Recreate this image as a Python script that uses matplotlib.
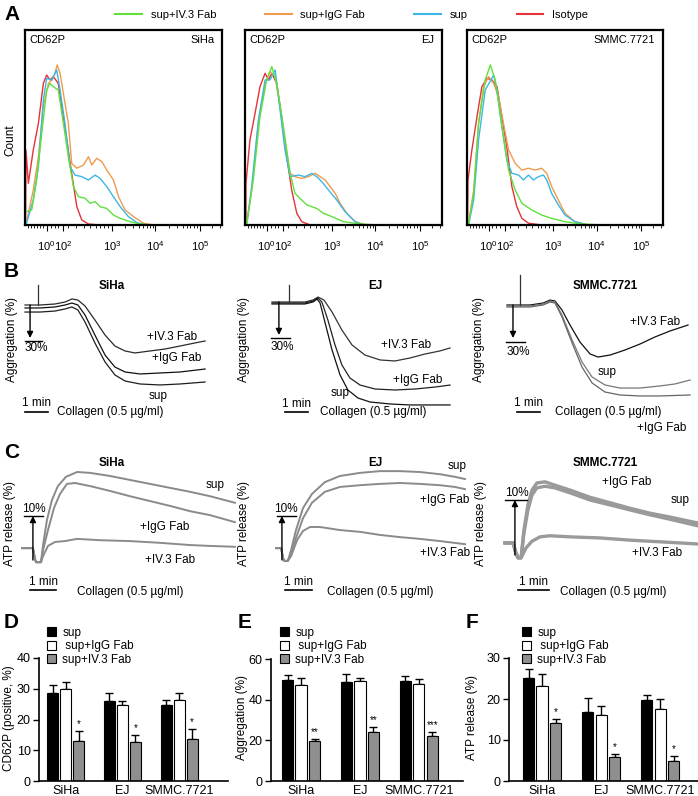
import numpy as np
import matplotlib
matplotlib.use("Agg")
import matplotlib.pyplot as plt
from matplotlib.lines import Line2D

plt.rcParams['font.family'] = ['Liberation Sans', 'DejaVu Sans']
plt.rcParams['mathtext.fontset'] = 'custom'
plt.rcParams['mathtext.rm'] = 'Liberation Sans'
plt.rcParams['mathtext.it'] = 'Liberation Sans:italic'
plt.rcParams['mathtext.bf'] = 'Liberation Sans:bold'

# ---------------- data ----------------
CELLS = ['SiHa', 'EJ', 'SMMC.7721']

# A: CD62P histograms, x = channel (% of axis), y = relative count
HIST_TICKS = [11.0, 19.5, 44.1, 66.1, 89.0]
HIST_TICKLABELS = [r'$\mathregular{10^0}$', r'$\mathregular{10^2}$', r'$\mathregular{10^3}$',
                   r'$\mathregular{10^4}$', r'$\mathregular{10^5}$']
HIST_MINOR = [1.5, 3, 4.5, 6, 7.5, 9, 13, 15, 17, 22, 26, 30, 33, 36, 38, 40, 42,
              51, 55, 58, 60, 62, 63.5, 65, 73, 77, 80, 82, 84, 86, 87.5, 95, 99]

SIHA_ISO = [(0.3, 0), (0.5, 38.5), (1.7, 21.4), (4.2, 38.5), (6.8, 52.1), (9.3, 72.6), (11.0, 76.9),
            (12.7, 74.4), (14.4, 76.1), (16.9, 72.6), (18.6, 60.7), (21.2, 43.6), (23.7, 26.5),
            (26.3, 9.4), (28.8, 2.6), (32.2, 0.5), (38.1, 0), (100, 0)]
SIHA_IGG = [(0.8, 1.7), (4.2, 17.9), (6.8, 35.0), (9.3, 60.7), (11.9, 72.6), (14.4, 75.2), (16.4, 82.1),
            (17.8, 77.8), (20.3, 62.4), (22.0, 52.1), (23.7, 31.6), (26.3, 29.1), (29.7, 30.8),
            (32.2, 35.0), (33.9, 30.8), (36.4, 34.2), (39.0, 32.5), (41.5, 28.2), (44.9, 23.1),
            (47.5, 14.5), (50.8, 7.7), (55.1, 4.3), (60.2, 0.9), (65.3, 0)]
SIHA_SUP = [(0.8, 0.9), (4.2, 12.8), (6.8, 29.9), (9.3, 64.1), (11.0, 75.2), (13.6, 74.4), (16.1, 79.5),
            (17.8, 69.2), (20.3, 52.1), (22.9, 29.9), (25.4, 25.6), (28.8, 24.8), (32.2, 23.1),
            (35.6, 25.6), (38.1, 23.9), (41.5, 19.7), (44.9, 14.5), (48.3, 9.4), (52.5, 4.3),
            (56.8, 1.2), (61.9, 0)]
SIHA_IV3 = [(0.5, 6.8), (3.4, 7.7), (5.9, 23.1), (8.5, 47.0), (11.0, 69.2), (12.7, 72.6), (14.4, 70.9),
            (16.9, 69.2), (19.5, 52.1), (22.0, 35.0), (24.6, 19.7), (27.1, 14.5), (30.5, 13.7),
            (33.1, 11.1), (35.6, 12.0), (38.1, 9.4), (41.5, 8.5), (44.9, 5.1), (48.3, 3.4),
            (53.4, 1.7), (58.5, 0.5), (65.3, 0), (100, 0)]

EJ_ISO = [(0.5, 0), (0.5, 21.4), (2.5, 43.6), (5.1, 57.3), (7.6, 70.9), (10.2, 77.8), (11.9, 74.4),
          (13.6, 77.8), (16.1, 72.6), (18.6, 55.6), (21.2, 35.0), (23.7, 17.9), (26.3, 6.0),
          (28.8, 1.7), (33.1, 0), (100, 0)]
EJ_IGG = [(0.8, 0), (3.4, 17.9), (6.8, 52.1), (10.2, 72.6), (12.7, 78.6), (15.3, 76.1), (17.8, 60.7),
          (20.3, 41.9), (22.9, 26.5), (25.4, 24.8), (28.8, 23.9), (32.2, 24.8), (35.6, 26.5),
          (38.1, 24.8), (40.7, 23.1), (43.2, 19.7), (45.8, 16.2), (48.3, 11.1), (51.7, 6.0),
          (55.9, 1.7), (61.9, 0)]
EJ_SUP = [(0.8, 0), (3.4, 19.7), (6.8, 53.8), (10.2, 74.4), (12.7, 74.4), (15.3, 79.5), (17.8, 59.0),
          (20.3, 38.5), (22.9, 24.8), (27.1, 25.6), (30.5, 24.8), (33.9, 26.5), (36.4, 24.8),
          (39.0, 22.2), (42.4, 17.9), (46.6, 12.8), (50.8, 6.8), (55.9, 1.7), (60.2, 0)]
EJ_IV3 = [(0.8, 0), (4.2, 23.1), (7.6, 55.6), (11.0, 74.4), (13.6, 81.2), (16.1, 72.6), (19.5, 50.4),
          (22.9, 26.5), (25.4, 16.2), (28.8, 12.8), (31.4, 10.3), (33.9, 9.4), (36.4, 8.5),
          (39.8, 6.0), (44.1, 4.3), (50.0, 1.7), (58.5, 0.5), (68.6, 0), (100, 0)]

SMMC_ISO = [(0.3, 0), (0.5, 23.1), (2.5, 38.5), (5.1, 55.6), (7.6, 70.9), (10.2, 75.2), (12.7, 74.4),
            (15.3, 70.9), (17.8, 55.6), (20.3, 40.2), (22.9, 19.7), (25.4, 9.4), (28.0, 3.4),
            (31.4, 0.9), (38.1, 0), (100, 0)]
SMMC_IGG = [(0.8, 0.9), (3.4, 17.9), (5.9, 52.1), (8.5, 70.9), (11.0, 76.1), (13.6, 72.6), (16.1, 65.8),
            (18.6, 52.1), (21.2, 38.5), (24.6, 31.6), (28.0, 28.2), (31.4, 29.1), (34.7, 28.2),
            (38.1, 29.1), (40.7, 26.5), (43.2, 19.7), (46.6, 12.8), (50.0, 6.0), (55.1, 1.7), (61.9, 0)]
SMMC_SUP = [(0.8, 0), (3.4, 12.8), (5.9, 43.6), (9.3, 69.2), (13.6, 76.9), (15.3, 69.2), (17.8, 50.4),
            (20.3, 33.3), (22.9, 26.5), (26.3, 25.6), (28.8, 23.1), (31.4, 25.6), (33.9, 23.1),
            (36.4, 24.8), (39.0, 25.6), (40.7, 23.1), (43.2, 16.2), (46.6, 10.3), (50.0, 5.1),
            (55.1, 1.7), (61.9, 0)]
SMMC_IV3 = [(0.8, 0.9), (3.4, 16.2), (5.9, 52.1), (9.3, 74.4), (11.9, 82.1), (14.4, 74.4), (17.8, 50.4),
            (21.2, 28.2), (24.6, 17.9), (28.0, 11.1), (33.1, 7.7), (38.1, 5.1), (43.2, 3.4),
            (50.0, 1.7), (58.5, 0.5), (70.3, 0), (100, 0)]

# B: aggregation traces, (time min, aggregation %)
B_SIHA_IV3 = [(0, 0), (0.65, 0), (1.30, -0.9), (1.74, -2.7), (2.04, -5.5), (2.30, -4.5), (2.61, 0.9),
              (3.04, 13.6), (3.48, 27.3), (3.91, 37.3), (4.35, 41.8), (4.78, 43.6), (5.43, 41.8),
              (6.09, 40.0), (6.74, 37.3), (7.39, 34.5), (7.83, 32.7)]
B_SIHA_IGG = [(0, 2.7), (0.65, 2.7), (1.30, 1.8), (1.74, 0), (2.04, -1.8), (2.30, 0), (2.61, 9.1),
              (3.04, 27.3), (3.48, 45.5), (3.91, 56.4), (4.35, 60.9), (5.00, 62.7), (5.87, 61.8),
              (6.74, 60.9), (7.83, 58.2)]
B_SIHA_SUP = [(0, 6.4), (0.65, 6.4), (1.30, 5.5), (1.74, 3.6), (2.04, 1.8), (2.30, 4.5), (2.61, 15.5),
              (3.04, 34.5), (3.48, 51.8), (3.91, 63.6), (4.35, 69.1), (5.00, 71.8), (5.87, 72.7),
              (6.74, 71.8), (7.83, 70.0)]
B_EJ_IV3 = [(0, 0), (0.78, 0), (1.43, 0), (1.78, -1.8), (2.0, -4.5), (2.26, -1.8), (2.61, 9.1),
            (3.04, 25.5), (3.48, 39.1), (4.04, 48.2), (4.70, 52.7), (5.35, 53.6), (6.0, 50.9),
            (6.65, 47.3), (7.30, 44.5), (7.74, 41.8)]
B_EJ_IGG = [(0, 0.9), (1.43, 0.9), (1.78, -0.9), (2.0, -3.6), (2.17, 0), (2.43, 16.4), (2.74, 39.1),
            (3.04, 57.3), (3.39, 69.1), (3.83, 75.5), (4.48, 79.1), (5.35, 80.0), (6.22, 79.1),
            (7.09, 77.3), (7.74, 75.5)]
B_EJ_SUP = [(0, 1.8), (1.43, 1.8), (1.78, 0), (1.96, -2.7), (2.09, 0.9), (2.30, 18.2), (2.61, 43.6),
            (2.96, 66.4), (3.30, 80.0), (3.74, 87.3), (4.26, 90.9), (5.13, 92.7), (6.0, 93.6),
            (6.87, 93.6), (7.74, 93.6)]
B_SMMC_IV3 = [(0, 0), (1.0, 0), (1.57, -1.8), (1.87, -4.5), (2.09, -3.6), (2.39, 4.5), (2.74, 18.2),
              (3.17, 33.6), (3.61, 44.5), (3.96, 47.3), (4.48, 45.5), (5.13, 40.9), (5.78, 35.5),
              (6.43, 29.1), (7.09, 23.6), (7.87, 18.2)]
B_SMMC_SUP = [(0, 0.9), (1.0, 0.9), (1.57, -0.9), (1.87, -3.6), (2.09, -2.7), (2.39, 9.1), (2.83, 31.8),
              (3.26, 51.8), (3.70, 65.5), (4.26, 72.7), (4.91, 75.5), (5.78, 75.5), (6.65, 73.6),
              (7.30, 71.8), (7.96, 68.2)]
B_SMMC_IGG = [(0, 1.8), (1.0, 1.8), (1.57, 0), (1.87, -2.7), (2.09, -1.8), (2.39, 10.9), (2.83, 34.5),
              (3.26, 56.4), (3.70, 70.9), (4.26, 79.1), (4.91, 81.8), (5.78, 82.7), (6.65, 82.7),
              (7.96, 81.8)]

# C: ATP release traces, (time min, release %)
C_SIHA_PRE = [(0, 2.7), (0.42, 2.7), (0.5, 0.2), (0.54, -0.5), (0.73, -0.5)]
C_SIHA_SUP = [(0.81, 3.4), (0.96, 9.1), (1.15, 13.6), (1.38, 16.8), (1.69, 18.9), (2.12, 20.0),
              (2.62, 19.8), (3.38, 19.1), (4.15, 18.2), (4.92, 17.3), (5.69, 16.4), (6.46, 15.5),
              (7.23, 14.5), (8.19, 13.0)]
C_SIHA_IGG = [(0.81, 2.3), (1.0, 6.8), (1.23, 11.8), (1.46, 15.0), (1.73, 17.3), (2.04, 17.5),
              (2.62, 16.8), (3.38, 15.7), (4.15, 14.5), (4.92, 13.4), (5.69, 12.3), (6.46, 11.1),
              (7.23, 10.2), (8.19, 8.6)]
C_SIHA_IV3 = [(0.81, 0.9), (1.0, 3.2), (1.27, 4.1), (1.65, 4.3), (2.12, 4.8), (3.0, 4.5), (4.15, 4.3),
              (5.31, 3.9), (6.46, 3.4), (7.23, 3.2), (8.19, 3.0)]
C_EJ_PRE = [(0, 2.7), (0.19, 2.7), (0.26, 0.5), (0.30, -0.2), (0.44, -0.2)]
C_EJ_SUP = [(0.56, 2.3), (0.74, 6.8), (1.0, 11.8), (1.33, 15.0), (1.81, 17.7), (2.37, 19.1), (3.11, 19.8),
            (3.85, 20.2), (4.59, 20.2), (5.33, 20.0), (6.07, 19.5), (6.63, 18.9), (7.0, 18.4)]
C_EJ_IGG = [(0.56, 1.6), (0.74, 5.0), (1.0, 9.5), (1.33, 13.0), (1.81, 15.5), (2.37, 16.6), (3.11, 17.0),
            (3.85, 17.3), (4.59, 17.5), (5.33, 17.3), (6.07, 17.0), (6.63, 16.6), (7.0, 16.1)]
C_EJ_IV3 = [(0.56, 0.9), (0.78, 4.5), (1.0, 6.6), (1.26, 7.5), (1.63, 7.5), (2.37, 6.8), (3.11, 6.4),
            (3.85, 5.7), (4.59, 5.2), (5.33, 4.8), (6.07, 4.3), (7.0, 3.6)]
C_SMMC_PRE = [(0, 2.2), (0.26, 2.2), (0.35, 0.4), (0.42, -0.5), (0.52, -0.5)]
C_SMMC_IGG = [(0.61, 4.5), (0.74, 9.1), (0.87, 11.8), (1.03, 13.1), (1.29, 13.3), (1.61, 12.7),
              (2.10, 11.8), (2.74, 10.5), (3.39, 9.5), (4.03, 8.5), (4.68, 7.6), (5.32, 6.9), (6.23, 5.8)]
C_SMMC_SUP = [(0.61, 4.0), (0.74, 8.2), (0.87, 10.9), (1.03, 12.2), (1.29, 12.5), (1.61, 12.2),
              (2.10, 11.3), (2.74, 10.0), (3.39, 9.1), (4.03, 8.2), (4.68, 7.3), (5.32, 6.5), (6.23, 5.3)]
C_SMMC_IV3 = [(0.68, 1.3), (0.87, 2.5), (1.13, 3.3), (1.45, 3.5), (2.10, 3.3), (3.06, 3.1), (4.03, 2.7),
              (5.0, 2.4), (6.23, 2.0)]

# D-F: bar charts (mean, SEM)
BAR_LABELS = ['sup', ' sup+IgG Fab', 'sup+IV.3 Fab']
CD62P_MEAN = [[28.7, 26.0, 24.7], [29.8, 24.8, 26.3], [13.0, 12.7, 13.6]]
CD62P_ERR = [[2.5, 2.6, 1.8], [2.3, 1.1, 2.3], [3.2, 2.4, 3.4]]
CD62P_STARS = ['*', '*', '*']
AGG_MEAN = [[49.5, 48.6, 49.0], [47.2, 49.2, 47.9], [19.6, 23.9, 22.3]]
AGG_ERR = [[2.8, 4.2, 2.6], [3.5, 1.5, 2.1], [1.2, 2.6, 1.6]]
AGG_STARS = ['**', '**', '***']
ATP_MEAN = [[25.2, 16.8, 19.8], [23.2, 16.2, 17.6], [14.2, 5.8, 4.8]]
ATP_ERR = [[2.0, 3.5, 1.1], [3.0, 2.2, 2.5], [1.0, 0.8, 1.3]]
ATP_STARS = ['*', '*', '*']

# ---------------- figure ----------------
W, H = 698, 796
fig = plt.figure(figsize=(W / 100, H / 100), dpi=100)

GREEN, ORANGE, CYAN, RED = '#5fe03c', '#ef9b4f', '#3cb6e6', '#e63238'


def px_axes(x0, y0, x1, y1):
    return fig.add_axes([x0 / W, 1 - y1 / H, (x1 - x0) / W, (y1 - y0) / H])


def ftext(x, y, s, **kw):
    fig.text(x / W, 1 - y / H, s, **kw)


def xy(pts):
    a = np.array(pts, dtype=float)
    return a[:, 0], a[:, 1]


# panel letters
for letter, (lx, ly) in zip('ABCDEF', [(4, 14), (4, 272), (4, 452), (4, 622), (238, 622), (466, 622)]):
    ftext(lx, ly, letter, fontsize=15, fontweight='bold', va='center', ha='left')

# ---- A ----
handles = [Line2D([], [], color=c, lw=1.5) for c in (GREEN, ORANGE, CYAN, RED)]
fig.legend(handles, ['sup+IV.3 Fab', 'sup+IgG Fab', 'sup', 'Isotype'], ncol=4, frameon=False,
           loc='center left', bbox_to_anchor=(115 / W, 1 - 15 / H), fontsize=8,
           handlelength=2.4, handletextpad=0.8, columnspacing=4.4, borderpad=0, borderaxespad=0)

hist_sets = [(SIHA_ISO, SIHA_IGG, SIHA_SUP, SIHA_IV3),
             (EJ_ISO, EJ_IGG, EJ_SUP, EJ_IV3),
             (SMMC_ISO, SMMC_IGG, SMMC_SUP, SMMC_IV3)]
for (bx0, bx1), cell, (iso, igg, sup, iv3) in zip([(25, 222), (245, 442), (467, 663)], CELLS, hist_sets):
    ax = px_axes(bx0, 30, bx1, 225)
    ax.plot(*xy(iso), color=RED, lw=1)
    ax.plot(*xy(igg), color=ORANGE, lw=1)
    ax.plot(*xy(sup), color=CYAN, lw=1)
    ax.plot(*xy(iv3), color=GREEN, lw=1)
    ax.set_xlim(0, 100)
    ax.set_ylim(0, 100)
    for sp in ax.spines.values():
        sp.set_linewidth(1.6)
    ax.set_yticks([])
    ax.set_xticks(HIST_TICKS, HIST_TICKLABELS, fontsize=8)
    ax.set_xticks(HIST_MINOR, minor=True)
    ax.tick_params(axis='x', which='major', length=4, width=0.8, pad=6)
    ax.tick_params(axis='x', which='minor', length=2.5, width=0.6)
    ax.text(0.02, 0.975, 'CD62P', transform=ax.transAxes, fontsize=8, va='top', ha='left')
    ax.text(0.96, 0.975, cell, transform=ax.transAxes, fontsize=8, va='top', ha='right')
ftext(10, 140, 'Count', rotation=90, fontsize=8.5, va='center', ha='center')


# ---- trace panels ----
def trace_axes(box, origin, sx, sy):
    x0, y0, x1, y1 = box
    ox, oy = origin
    ax = px_axes(x0, y0, x1, y1)
    ax.set_xlim((x0 - ox) / sx, (x1 - ox) / sx)
    ax.set_ylim((oy - y1) / sy, (oy - y0) / sy)
    ax.axis('off')
    return ax


TXT = dict(fontsize=8.5, ha='center', va='center')

# B panels
b_specs = [
    dict(box=(15, 268, 235, 420), origin=(25, 305), title_x=112,
         traces=[(B_SIHA_IV3, '#2a2a2a'), (B_SIHA_IGG, '#111111'), (B_SIHA_SUP, '#1e1e1e')],
         spike=(0.57, -18), arrow_t=0.22, bar_line=(0, 0.74, 32.7), pct=(0.5, 39.5),
         labels=[('+IV.3 Fab', 6.4, 29), ('+IgG Fab', 6.6, 48), ('sup', 5.8, 83)],
         sbar=(0, 1, 97), collagen_t=1.4),
    dict(box=(262, 268, 470, 420), origin=(272, 302), title_x=375,
         traces=[(B_EJ_IV3, '#333333'), (B_EJ_IGG, '#222222'), (B_EJ_SUP, '#111111')],
         spike=(0.74, -15.5), arrow_t=0.30, bar_line=(-0.04, 0.78, 32.7), pct=(0.43, 41),
         labels=[('+IV.3 Fab', 5.83, 39), ('+IgG Fab', 6.35, 71), ('sup', 2.96, 83)],
         sbar=(0.57, 1.57, 100), collagen_t=2.09),
    dict(box=(497, 262, 698, 435), origin=(507, 305), title_x=605,
         traces=[(B_SMMC_IV3, '#111111'), (B_SMMC_SUP, '#777777'), (B_SMMC_IGG, '#666666')],
         spike=(0.57, -27), arrow_t=0.26, bar_line=(-0.04, 0.78, 34), pct=(0.48, 43),
         labels=[('+IV.3 Fab', 6.43, 15.5), ('sup', 4.35, 61), ('+IgG Fab', 6.74, 112)],
         sbar=(0.43, 1.43, 97), collagen_t=2.09),
]
for cell, spec in zip(CELLS, b_specs):
    ax = trace_axes(spec['box'], spec['origin'], 23, -1.1)
    for pts, col in spec['traces']:
        ax.plot(*xy(pts), color=col, lw=0.9)
    st, sa = spec['spike']
    ax.plot([st, st], [sa, 0], color='#333333', lw=0.9)
    at = spec['arrow_t']
    ax.annotate('', xy=(at, 30), xytext=(at, 0),
                arrowprops=dict(arrowstyle='-|>', color='black', lw=1.0, mutation_scale=9, shrinkA=0, shrinkB=0))
    l0, l1, la = spec['bar_line']
    ax.plot([l0, l1], [la, la], color='black', lw=1.0)
    ax.text(spec['pct'][0], spec['pct'][1], '30%', **TXT)
    for s, t, a in spec['labels']:
        ax.text(t, a, s, **TXT)
    s0, s1, sa = spec['sbar']
    ax.plot([s0, s1], [sa, sa], color='black', lw=1.2)
    ax.text((s0 + s1) / 2, sa - 7.5, '1 min', **TXT)
    ax.text(spec['collagen_t'], sa, 'Collagen (0.5 µg/ml)', fontsize=8.5, ha='left', va='center')
    ftext(spec['title_x'], 286, cell, fontsize=8.5, fontweight='bold', ha='center', va='center')
for x in (12, 244, 479):
    ftext(x, 340, 'Aggregation (%)', rotation=90, fontsize=8.5, ha='center', va='center')

# C panels
c_specs = [
    dict(box=(15, 455, 245, 600), origin=(22, 560), sx=26, sy=4.4, title_x=112,
         pre=C_SIHA_PRE, traces=[C_SIHA_SUP, C_SIHA_IGG, C_SIHA_IV3], lw=1.4, col='#8a8a8a',
         arrow_t=0.42, bar_line=(0.08, 0.81), pct=(0.45, 10.3),
         labels=[('sup', 7.42, 17), ('+IgG Fab', 5.5, 7.5), ('+IV.3 Fab', 5.7, 0)],
         sbar=(0.31, 1.31, -6.8), collagen_t=2.12),
    dict(box=(262, 455, 470, 600), origin=(276, 560), sx=27, sy=4.4, title_x=375,
         pre=C_EJ_PRE, traces=[C_EJ_SUP, C_EJ_IGG, C_EJ_IV3], lw=1.4, col='#8a8a8a',
         arrow_t=0.22, bar_line=(0.04, 0.74), pct=(0.37, 10.3),
         labels=[('sup', 6.7, 21.4), ('+IgG Fab', 6.26, 13.6), ('+IV.3 Fab', 6.25, 1.6)],
         sbar=(0.33, 1.33, -6.8), collagen_t=1.89),
    dict(box=(495, 455, 698, 600), origin=(505, 555), sx=31, sy=5.5, title_x=605,
         pre=C_SMMC_PRE, traces=[C_SMMC_IGG, C_SMMC_SUP, C_SMMC_IV3], lw=2.4, col='#9a9a9a',
         arrow_t=0.32, bar_line=(0.0, 0.71), pct=(0.39, 10.2),
         labels=[('+IgG Fab', 3.94, 13.3), ('sup', 5.65, 10), ('+IV.3 Fab', 4.9, 0.4)],
         sbar=(0.42, 1.42, -6.4), collagen_t=1.77),
]
for cell, spec in zip(CELLS, c_specs):
    ax = trace_axes(spec['box'], spec['origin'], spec['sx'], spec['sy'])
    pt, pr = xy(spec['pre'])
    for pts in spec['traces']:
        tt, rr = xy(pts)
        ax.plot(np.r_[pt, tt], np.r_[pr, rr], color=spec['col'], lw=spec['lw'])
    at = spec['arrow_t']
    ax.annotate('', xy=(at, 10), xytext=(at, 0),
                arrowprops=dict(arrowstyle='-|>', color='black', lw=1.0, mutation_scale=9, shrinkA=0, shrinkB=0))
    l0, l1 = spec['bar_line']
    ax.plot([l0, l1], [10, 10], color='black', lw=1.0)
    ax.text(spec['pct'][0], spec['pct'][1], '10%', fontsize=8.5, ha='center', va='bottom')
    for s, t, r in spec['labels']:
        ax.text(t, r, s, **TXT)
    s0, s1, sr = spec['sbar']
    ax.plot([s0, s1], [sr, sr], color='black', lw=1.2)
    ax.text((s0 + s1) / 2, sr + 8 / spec['sy'], '1 min', **TXT)
    ax.text(spec['collagen_t'], sr - 2 / spec['sy'], 'Collagen (0.5 µg/ml)', fontsize=8.5, ha='left', va='center')
    ftext(spec['title_x'], 463, cell, fontsize=8.5, fontweight='bold', ha='center', va='center')
for x in (10, 244, 481):
    ftext(x, 523, 'ATP release (%)', rotation=90, fontsize=8.5, ha='center', va='center')

# ---- D, E, F ----
bar_specs = [
    dict(box=(39, 658, 228, 781), xlim=(-0.47, 2.86), ylim=40, yticks=[0, 10, 20, 30, 40],
         mean=CD62P_MEAN, err=CD62P_ERR, stars=CD62P_STARS, leg=(47, 627),
         ylabel='CD62P (positive, %)', ylab_x=9),
    dict(box=(271, 659, 463, 781), xlim=(-0.51, 2.75), ylim=60, yticks=[0, 20, 40, 60],
         mean=AGG_MEAN, err=AGG_ERR, stars=AGG_STARS, leg=(280, 627),
         ylabel='Aggregation (%)', ylab_x=242),
    dict(box=(509, 658, 698, 781), xlim=(-0.56, 2.64), ylim=30, yticks=[0, 10, 20, 30],
         mean=ATP_MEAN, err=ATP_ERR, stars=ATP_STARS, leg=(522, 627),
         ylabel='ATP release (%)', ylab_x=472),
]
offs = [-0.229, 0.0, 0.229]
fills = ['black', 'white', '#8f8f8f']
for spec in bar_specs:
    ax = px_axes(*spec['box'])
    x = np.arange(len(CELLS))
    for k in range(3):
        ax.bar(x + offs[k], spec['mean'][k], 0.19, color=fills[k], edgecolor='black', lw=0.8,
               label=BAR_LABELS[k], zorder=2)
        ax.errorbar(x + offs[k], spec['mean'][k], yerr=[np.zeros(3), spec['err'][k]], fmt='none',
                    ecolor='black', elinewidth=1.0, capsize=3, capthick=1.0, zorder=1)
    for i in range(3):
        top = spec['mean'][2][i] + spec['err'][2][i]
        ax.text(x[i] + offs[2], top + spec['ylim'] * 0.015, spec['stars'][i], fontsize=7,
                ha='center', va='bottom')
    ax.set_xlim(*spec['xlim'])
    ax.set_ylim(0, spec['ylim'])
    ax.set_yticks(spec['yticks'])
    ax.set_xticks(x, CELLS)
    ax.tick_params(axis='x', length=0, labelsize=9, pad=3)
    ax.tick_params(axis='y', length=4, width=1.0, labelsize=9, pad=2)
    for side in ('top', 'right'):
        ax.spines[side].set_visible(False)
    for side in ('left', 'bottom'):
        ax.spines[side].set_linewidth(1.2)
    lx, ly = spec['leg']
    ax.legend(loc='upper left', bbox_to_anchor=(lx / W, 1 - ly / H), bbox_transform=fig.transFigure,
              frameon=False, fontsize=8.5, handlelength=0.8, handleheight=0.8, handletextpad=0.5,
              labelspacing=0.12, borderpad=0, borderaxespad=0)
    ftext(spec['ylab_x'], 718, spec['ylabel'], rotation=90, fontsize=8.5, ha='center', va='center')

fig.savefig('out.png', dpi=100)
